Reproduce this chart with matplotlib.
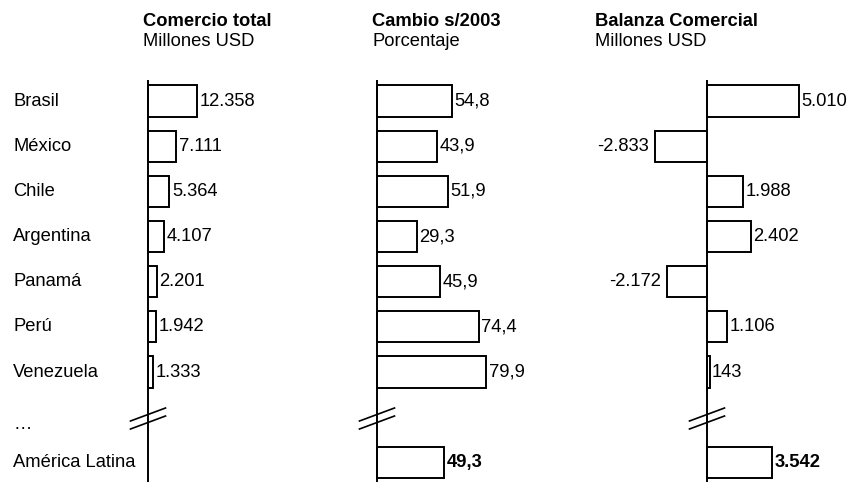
import matplotlib
matplotlib.use("Agg")
import matplotlib.pyplot as plt

plt.rcParams["font.family"] = ["Liberation Sans", "DejaVu Sans"]

# --- data -------------------------------------------------------------
countries = ["Brasil", "México", "Chile", "Argentina", "Panamá", "Perú",
             "Venezuela", "…", "América Latina"]
comercio_total = [12358, 7111, 5364, 4107, 2201, 1942, 1333, None, None]
cambio_2003 = [54.8, 43.9, 51.9, 29.3, 45.9, 74.4, 79.9, None, 49.3]
balanza = [5010, -2833, 1988, 2402, -2172, 1106, 143, None, 3542]

titles = [("Comercio total", "Millones USD"),
          ("Cambio s/2003", "Porcentaje"),
          ("Balanza Comercial", "Millones USD")]
decimals = [0, 1, 0]


def fmt(v, nd):
    """Spanish number format: dot for thousands, comma for decimals."""
    s = f"{abs(v):,.{nd}f}"
    s = s.replace(",", "X").replace(".", ",").replace("X", ".")
    return ("-" if v < 0 else "") + s


# --- layout (pixels) --------------------------------------------------
W, H, DPI = 855, 482, 100
row0_px, row_step_px = 101, 45.17
axis_top_px = 80
zero_px = [148, 377, 707]          # where each panel's zero line sits
px_per_unit = [0.0040, 1.365, 0.0183]
title_x_px = [143, 372, 595]

fig = plt.figure(figsize=(W / DPI, H / DPI), dpi=DPI)
fig.patch.set_facecolor("white")

ytop = -row0_px / row_step_px
ybot = (H - row0_px) / row_step_px
y_axis_top = (axis_top_px - row0_px) / row_step_px
rows = list(range(len(countries)))

series = [comercio_total, cambio_2003, balanza]
fs = 13.2

for k, vals in enumerate(series):
    ax = fig.add_axes([0, 0, 1, 1])
    ax.set_facecolor("none")
    ax.set_xlim(-zero_px[k] / px_per_unit[k], (W - zero_px[k]) / px_per_unit[k])
    ax.set_ylim(ybot, ytop)
    ax.axis("off")

    ys = [r for r, v in zip(rows, vals) if v is not None]
    vs = [v for v in vals if v is not None]
    ax.barh(ys, vs, height=0.69, color="white", edgecolor="black",
            linewidth=1.4, zorder=2)

    # zero line
    ax.plot([0, 0], [y_axis_top, ybot], color="black", lw=1.4, zorder=3,
            solid_capstyle="butt")

    # axis break between the country rows and the regional total
    dx = 17.5 / px_per_unit[k]
    yb = (418.5 - row0_px) / row_step_px
    dy = 6.5 / row_step_px
    for off in (-4.0 / row_step_px, 4.0 / row_step_px):
        ax.plot([-dx, dx], [yb + off + dy, yb + off - dy], color="black",
                lw=1.2, zorder=4)

    # value labels
    for y, v in zip(ys, vs):
        bold = countries[y] == "América Latina"
        if v >= 0:
            ax.annotate(fmt(v, decimals[k]), (v, y), xytext=(2.5, 0),
                        textcoords="offset pixels", ha="left", va="center",
                        fontsize=fs, fontweight="bold" if bold else "normal")
        else:
            ax.annotate(fmt(v, decimals[k]), (v, y), xytext=(-6, 0),
                        textcoords="offset pixels", ha="right", va="center",
                        fontsize=fs, fontweight="bold" if bold else "normal")

    # panel titles
    t, sub = titles[k]
    fig.text(title_x_px[k] / W, 1 - 21 / H, t, fontsize=fs, fontweight="bold",
             ha="left", va="center")
    fig.text(title_x_px[k] / W, 1 - 42 / H, sub, fontsize=fs,
             ha="left", va="center")

    if k == 0:
        for y, name in zip(rows, countries):
            ax.text(13 / W, y + (0.17 if name == "…" else 0), name,
                    transform=ax.get_yaxis_transform(), fontsize=fs,
                    ha="left", va="center")

fig.savefig("out.png", dpi=DPI, facecolor="white")
